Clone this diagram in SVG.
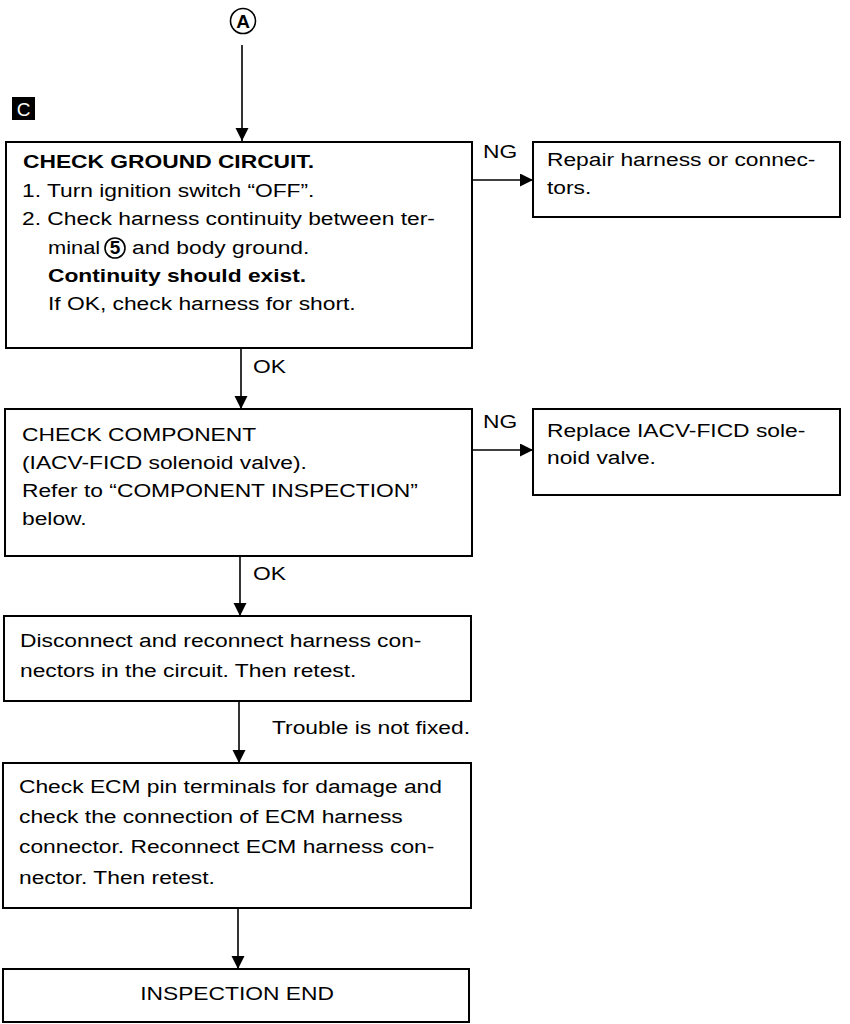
<svg xmlns="http://www.w3.org/2000/svg" width="850" height="1024" viewBox="0 0 850 1024">
<defs>
<marker id="ah" markerWidth="14" markerHeight="14" refX="13" refY="6.5" orient="auto" markerUnits="userSpaceOnUse">
<path d="M0,0 L13,6.5 L0,13 Z" fill="#000"/>
</marker>
</defs>
<style>
.box{fill:#fff;stroke:#000;stroke-width:2}
.t{font-family:"Liberation Sans",Arial,sans-serif;font-size:19px;fill:#000}
.b{font-weight:bold}
.ln{stroke:#000;stroke-width:1.6;fill:none}
</style>
<rect width="850" height="1024" fill="#fff"/>
<g id="startA">
<circle cx="243" cy="21" r="12.5" fill="none" stroke="#000" stroke-width="1.6"/>
<text class="t b" x="243" y="27.5" text-anchor="middle" font-size="17">A</text>
</g>
<g id="labelC">
<rect x="12" y="97" width="23" height="23" fill="#000"/>
<text class="t" x="23.5" y="116" text-anchor="middle" style="fill:#fff" font-size="20">C</text>
</g>
<g id="connectors">
<line class="ln" x1="242" y1="45" x2="242" y2="141" marker-end="url(#ah)"/>
<line class="ln" x1="472" y1="180" x2="533" y2="180" marker-end="url(#ah)"/>
<text class="t" transform="translate(483,158) scale(1.2,1)">NG</text>
<line class="ln" x1="241" y1="348" x2="241" y2="409" marker-end="url(#ah)"/>
<text class="t" transform="translate(253,373) scale(1.2,1)">OK</text>
<line class="ln" x1="472" y1="450" x2="533" y2="450" marker-end="url(#ah)"/>
<text class="t" transform="translate(483,428) scale(1.2,1)">NG</text>
<line class="ln" x1="240" y1="556" x2="240" y2="616" marker-end="url(#ah)"/>
<text class="t" transform="translate(253,580) scale(1.2,1)">OK</text>
<line class="ln" x1="239" y1="701" x2="239" y2="763" marker-end="url(#ah)"/>
<text class="t" transform="translate(272,734) scale(1.2,1)">Trouble is not fixed.</text>
<line class="ln" x1="238" y1="908" x2="238" y2="969" marker-end="url(#ah)"/>
</g>
<g id="checkGround">
<rect class="box" x="6" y="142" width="466" height="206"/>
<text class="t b" transform="translate(23,168) scale(1.2,1)">CHECK GROUND CIRCUIT.</text>
<text class="t" transform="translate(22,197) scale(1.2,1)">1. Turn ignition switch “OFF”.</text>
<text class="t" transform="translate(22,225) scale(1.2,1)">2. Check harness continuity between ter-</text>
<text class="t" transform="translate(48,254) scale(1.15,1)">minal</text>
<circle cx="115" cy="248" r="10" fill="none" stroke="#000" stroke-width="1.6"/>
<text class="t b" x="115" y="254" text-anchor="middle" font-size="15">5</text>
<text class="t" transform="translate(132,254) scale(1.2,1)">and body ground.</text>
<text class="t b" transform="translate(48,282) scale(1.2,1)">Continuity should exist.</text>
<text class="t" transform="translate(48,310) scale(1.2,1)">If OK, check harness for short.</text>
</g>
<g id="repairHarness">
<rect class="box" x="533" y="142" width="307" height="75"/>
<text class="t" transform="translate(547,166) scale(1.2,1)">Repair harness or connec-</text>
<text class="t" transform="translate(547,194) scale(1.2,1)">tors.</text>
</g>
<g id="checkComponent">
<rect class="box" x="5" y="409" width="467" height="147"/>
<text class="t" transform="translate(22,441) scale(1.2,1)">CHECK COMPONENT</text>
<text class="t" transform="translate(22,469) scale(1.2,1)">(IACV-FICD solenoid valve).</text>
<text class="t" transform="translate(22,497) scale(1.2,1)">Refer to “COMPONENT INSPECTION”</text>
<text class="t" transform="translate(22,525) scale(1.2,1)">below.</text>
</g>
<g id="replaceValve">
<rect class="box" x="533" y="409" width="307" height="86"/>
<text class="t" transform="translate(547,437) scale(1.2,1)">Replace IACV-FICD sole-</text>
<text class="t" transform="translate(547,464) scale(1.2,1)">noid valve.</text>
</g>
<g id="reconnect">
<rect class="box" x="4" y="616" width="467" height="85"/>
<text class="t" transform="translate(20,647) scale(1.2,1)">Disconnect and reconnect harness con-</text>
<text class="t" transform="translate(20,677) scale(1.2,1)">nectors in the circuit. Then retest.</text>
</g>
<g id="checkECM">
<rect class="box" x="3" y="763" width="468" height="145"/>
<text class="t" transform="translate(19,793) scale(1.2,1)">Check ECM pin terminals for damage and</text>
<text class="t" transform="translate(19,823) scale(1.2,1)">check the connection of ECM harness</text>
<text class="t" transform="translate(19,853) scale(1.2,1)">connector. Reconnect ECM harness con-</text>
<text class="t" transform="translate(19,884) scale(1.2,1)">nector. Then retest.</text>
</g>
<g id="inspectionEnd">
<rect class="box" x="3" y="969" width="466" height="53"/>
<text class="t" text-anchor="middle" transform="translate(237,1000) scale(1.2,1)">INSPECTION END</text>
</g>
</svg>
